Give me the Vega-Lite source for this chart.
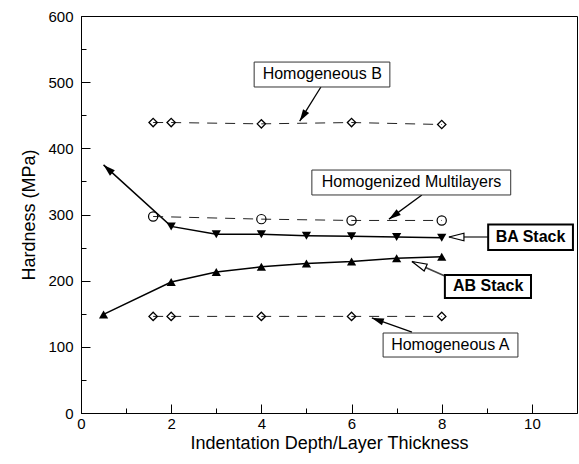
{
  "$schema": "https://vega.github.io/schema/vega-lite/v6.json",
  "width": 496,
  "height": 397,
  "autosize": "none",
  "padding": {"left": 81, "top": 16, "right": 2, "bottom": 51},
  "background": "white",
  "config": {
    "view": {"stroke": "black", "strokeWidth": 1},
    "font": "Liberation Sans",
    "axis": {
      "grid": false,
      "domainColor": "black",
      "tickColor": "black",
      "labelColor": "black",
      "titleColor": "black",
      "labelFont": "Liberation Sans",
      "titleFont": "Liberation Sans",
      "labelFontSize": 15,
      "titleFontSize": 18,
      "titleFontWeight": "normal",
      "labelFlush": false,
      "labelOverlap": false
    }
  },
  "datasets": {
    "series": [
      {"series": "Homogeneous B", "x": 1.6, "y": 439},
      {"series": "Homogeneous B", "x": 2, "y": 439},
      {"series": "Homogeneous B", "x": 4, "y": 437},
      {"series": "Homogeneous B", "x": 6, "y": 439},
      {"series": "Homogeneous B", "x": 8, "y": 436},
      {"series": "Homogenized Multilayers", "x": 1.6, "y": 297},
      {"series": "Homogenized Multilayers", "x": 4, "y": 293},
      {"series": "Homogenized Multilayers", "x": 6, "y": 291},
      {"series": "Homogenized Multilayers", "x": 8, "y": 291},
      {"series": "BA Stack", "x": 0.5, "y": 375},
      {"series": "BA Stack", "x": 2, "y": 282},
      {"series": "BA Stack", "x": 3, "y": 270},
      {"series": "BA Stack", "x": 4, "y": 270},
      {"series": "BA Stack", "x": 5, "y": 268},
      {"series": "BA Stack", "x": 6, "y": 267},
      {"series": "BA Stack", "x": 7, "y": 266},
      {"series": "BA Stack", "x": 8, "y": 265},
      {"series": "AB Stack", "x": 0.5, "y": 149},
      {"series": "AB Stack", "x": 2, "y": 198},
      {"series": "AB Stack", "x": 3, "y": 213},
      {"series": "AB Stack", "x": 4, "y": 221},
      {"series": "AB Stack", "x": 5, "y": 226},
      {"series": "AB Stack", "x": 6, "y": 229},
      {"series": "AB Stack", "x": 7, "y": 234},
      {"series": "AB Stack", "x": 8, "y": 236},
      {"series": "Homogeneous A", "x": 1.6, "y": 146},
      {"series": "Homogeneous A", "x": 2, "y": 146},
      {"series": "Homogeneous A", "x": 4, "y": 146},
      {"series": "Homogeneous A", "x": 6, "y": 146},
      {"series": "Homogeneous A", "x": 8, "y": 146}
    ],
    "ann": [
      {"label": "Homogeneous B", "kind": "plain", "tx": 5.35, "ty": 511.6, "bx1": 3.84, "bx2": 6.85, "by1": 492.7, "by2": 530.4, "ax1": 5.32, "ay1": 492.7, "ax2": 4.85, "ay2": 441},
      {"label": "Homogenized Multilayers", "kind": "plain", "tx": 7.33, "ty": 348.4, "bx1": 5.12, "bx2": 9.53, "by1": 329.5, "by2": 367.2, "ax1": 7.56, "ay1": 329.5, "ax2": 6.83, "ay2": 293},
      {"label": "BA Stack", "kind": "bold", "tx": 9.97, "ty": 266, "bx1": 9.03, "bx2": 10.91, "by1": 246.3, "by2": 284.9, "ax1": 9.03, "ay1": 266, "ax2": 8.16, "ay2": 266},
      {"label": "AB Stack", "kind": "bold", "tx": 9.03, "ty": 191.2, "bx1": 8.07, "bx2": 9.98, "by1": 173.8, "by2": 208.6, "ax1": 8.12, "ay1": 205.5, "ax2": 7.34, "ay2": 229},
      {"label": "Homogeneous A", "kind": "plain", "tx": 8.19, "ty": 102.8, "bx1": 6.7, "bx2": 9.69, "by1": 84.6, "by2": 120.9, "ax1": 7.34, "ay1": 122.4, "ax2": 6.45, "ay2": 143.6}
    ]
  },
  "resolve": {"scale": {"x": "shared", "y": "shared"}, "axis": {"x": "independent", "y": "independent"}},
  "layer": [
    {
      "data": {"name": "series"},
      "transform": [{"filter": "datum.series === 'BA Stack' || datum.series === 'AB Stack'"}],
      "mark": {"type": "line", "color": "black", "strokeWidth": 1.5},
      "encoding": {
        "x": {"field": "x", "type": "quantitative", "scale": {"domain": [0, 11], "nice": false, "zero": false},
              "axis": {"orient": "bottom", "values": [0, 2, 4, 6, 8, 10], "tickSize": -9, "labelPadding": 12, "title": "Indentation Depth/Layer Thickness", "titlePadding": 3}},
        "y": {"field": "y", "type": "quantitative", "scale": {"domain": [0, 600], "nice": false},
              "axis": {"orient": "left", "values": [0, 100, 200, 300, 400, 500, 600], "tickSize": -9, "labelPadding": 17, "title": "Hardness (MPa)", "titlePadding": 9}},
        "detail": {"field": "series"}
      }
    },
    {
      "data": {"name": "series"},
      "transform": [{"filter": "datum.series !== 'BA Stack' && datum.series !== 'AB Stack'"}],
      "mark": {"type": "line", "color": "#222", "strokeWidth": 1, "strokeDash": [10, 8]},
      "encoding": {
        "x": {"field": "x", "type": "quantitative",
              "axis": {"orient": "bottom", "values": [1, 3, 5, 7, 9], "tickSize": -5, "labels": false, "domain": false, "title": null}},
        "y": {"field": "y", "type": "quantitative",
              "axis": {"orient": "left", "values": [50, 150, 250, 350, 450, 550], "tickSize": -5, "labels": false, "domain": false, "title": null}},
        "detail": {"field": "series"}
      }
    },
    {
      "data": {"name": "series"},
      "transform": [{"filter": "datum.series === 'Homogeneous A' || datum.series === 'Homogeneous B'"}],
      "mark": {"type": "point", "shape": "diamond", "filled": false, "color": "black", "strokeWidth": 1.3, "size": 70, "opacity": 1},
      "encoding": {
        "x": {"field": "x", "type": "quantitative", "axis": null},
        "y": {"field": "y", "type": "quantitative", "axis": null}
      }
    },
    {
      "data": {"name": "series"},
      "transform": [{"filter": "datum.series === 'Homogenized Multilayers'"}],
      "mark": {"type": "point", "shape": "circle", "filled": false, "color": "black", "strokeWidth": 1.2, "size": 85, "opacity": 1},
      "encoding": {
        "x": {"field": "x", "type": "quantitative", "axis": null},
        "y": {"field": "y", "type": "quantitative", "axis": null}
      }
    },
    {
      "data": {"name": "series"},
      "transform": [{"filter": "datum.series === 'BA Stack' && datum.x > 0.5"}],
      "mark": {"type": "point", "shape": "triangle-down", "filled": true, "color": "black", "size": 85, "opacity": 1},
      "encoding": {
        "x": {"field": "x", "type": "quantitative", "axis": null},
        "y": {"field": "y", "type": "quantitative", "axis": null}
      }
    },
    {
      "data": {"name": "series"},
      "transform": [{"filter": "datum.series === 'BA Stack' && datum.x === 0.5"}],
      "mark": {"type": "point", "shape": "M0,0L-0.3,1L0.3,1Z", "angle": -47.5, "filled": true, "color": "black", "size": 576, "opacity": 1},
      "encoding": {
        "x": {"field": "x", "type": "quantitative", "axis": null},
        "y": {"field": "y", "type": "quantitative", "axis": null}
      }
    },
    {
      "data": {"name": "series"},
      "transform": [{"filter": "datum.series === 'AB Stack'"}],
      "mark": {"type": "point", "shape": "triangle-up", "filled": true, "color": "black", "size": 85, "opacity": 1},
      "encoding": {
        "x": {"field": "x", "type": "quantitative", "axis": null},
        "y": {"field": "y", "type": "quantitative", "axis": null}
      }
    },
    {
      "data": {"name": "ann"},
      "transform": [{"filter": "datum.kind === 'plain'"}],
      "mark": {"type": "rule", "color": "black", "strokeWidth": 1.3},
      "encoding": {
        "x": {"field": "ax1", "type": "quantitative", "axis": null},
        "y": {"field": "ay1", "type": "quantitative", "axis": null},
        "x2": {"field": "ax2"},
        "y2": {"field": "ay2"}
      }
    },
    {
      "data": {"name": "ann"},
      "transform": [{"filter": "datum.kind === 'bold'"}],
      "mark": {"type": "rule", "color": "#444", "strokeWidth": 1.6},
      "encoding": {
        "x": {"field": "ax1", "type": "quantitative", "axis": null},
        "y": {"field": "ay1", "type": "quantitative", "axis": null},
        "x2": {"field": "ax2"},
        "y2": {"field": "ay2"}
      }
    },
    {
      "data": {"name": "ann"},
      "transform": [{"filter": "datum.kind === 'plain'"}],
      "mark": {"type": "rect", "fill": "white", "stroke": "#333", "strokeWidth": 1},
      "encoding": {
        "x": {"field": "bx1", "type": "quantitative", "axis": null},
        "x2": {"field": "bx2"},
        "y": {"field": "by1", "type": "quantitative", "axis": null},
        "y2": {"field": "by2"}
      }
    },
    {
      "data": {"name": "ann"},
      "transform": [{"filter": "datum.kind === 'bold'"}],
      "mark": {"type": "rect", "fill": "white", "stroke": "black", "strokeWidth": 2},
      "encoding": {
        "x": {"field": "bx1", "type": "quantitative", "axis": null},
        "x2": {"field": "bx2"},
        "y": {"field": "by1", "type": "quantitative", "axis": null},
        "y2": {"field": "by2"}
      }
    },
    {
      "data": {"name": "ann"},
      "transform": [{"filter": "datum.kind === 'plain'"}],
      "mark": {"type": "text", "font": "Liberation Sans", "fontSize": 16, "color": "black", "align": "center", "baseline": "middle"},
      "encoding": {
        "x": {"field": "tx", "type": "quantitative", "axis": null},
        "y": {"field": "ty", "type": "quantitative", "axis": null},
        "text": {"field": "label"}
      }
    },
    {
      "data": {"name": "ann"},
      "transform": [{"filter": "datum.kind === 'bold'"}],
      "mark": {"type": "text", "font": "Liberation Sans", "fontSize": 16, "fontWeight": "bold", "color": "black", "align": "center", "baseline": "middle"},
      "encoding": {
        "x": {"field": "tx", "type": "quantitative", "axis": null},
        "y": {"field": "ty", "type": "quantitative", "axis": null},
        "text": {"field": "label"}
      }
    },
    {
      "data": {"name": "ann"},
      "transform": [{"filter": "datum.label === 'Homogeneous B'"}],
      "mark": {"type": "point", "shape": "M0,0L-0.3,1L0.3,1Z", "angle": 212.3, "filled": true, "color": "black", "size": 576, "opacity": 1},
      "encoding": {
        "x": {"field": "ax2", "type": "quantitative", "axis": null},
        "y": {"field": "ay2", "type": "quantitative", "axis": null}
      }
    },
    {
      "data": {"name": "ann"},
      "transform": [{"filter": "datum.label === 'Homogenized Multilayers'"}],
      "mark": {"type": "point", "shape": "M0,0L-0.3,1L0.3,1Z", "angle": 234, "filled": true, "color": "black", "size": 576, "opacity": 1},
      "encoding": {
        "x": {"field": "ax2", "type": "quantitative", "axis": null},
        "y": {"field": "ay2", "type": "quantitative", "axis": null}
      }
    },
    {
      "data": {"name": "ann"},
      "transform": [{"filter": "datum.label === 'Homogeneous A'"}],
      "mark": {"type": "point", "shape": "M0,0L-0.3,1L0.3,1Z", "angle": 289.3, "filled": true, "color": "black", "size": 576, "opacity": 1},
      "encoding": {
        "x": {"field": "ax2", "type": "quantitative", "axis": null},
        "y": {"field": "ay2", "type": "quantitative", "axis": null}
      }
    },
    {
      "data": {"name": "ann"},
      "transform": [{"filter": "datum.label === 'BA Stack'"}],
      "mark": {"type": "point", "shape": "M0,0L-0.25,1L0.25,1Z", "angle": 270, "filled": true, "fill": "white", "stroke": "black", "strokeWidth": 1.2, "size": 900, "opacity": 1},
      "encoding": {
        "x": {"field": "ax2", "type": "quantitative", "axis": null},
        "y": {"field": "ay2", "type": "quantitative", "axis": null}
      }
    },
    {
      "data": {"name": "ann"},
      "transform": [{"filter": "datum.label === 'AB Stack'"}],
      "mark": {"type": "point", "shape": "M0,0L-0.25,1L0.25,1Z", "angle": 293.9, "filled": true, "fill": "white", "stroke": "black", "strokeWidth": 1.2, "size": 900, "opacity": 1},
      "encoding": {
        "x": {"field": "ax2", "type": "quantitative", "axis": null},
        "y": {"field": "ay2", "type": "quantitative", "axis": null}
      }
    }
  ]
}
